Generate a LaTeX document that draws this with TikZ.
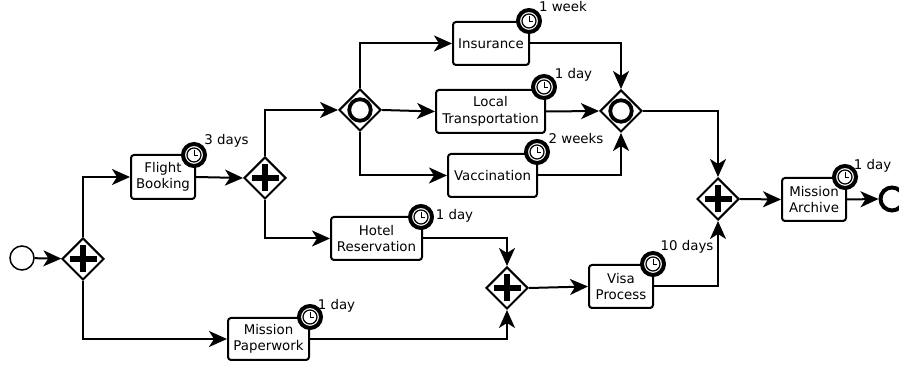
\documentclass[tikz,border=0pt]{standalone}
\usepackage{fontspec}
\setmainfont{DejaVu Sans}
\usetikzlibrary{shapes.geometric,arrows.meta}
\tikzstyle{task}=[rectangle,rounded corners=0.06cm,fill=white,draw=black,
  line width=0.04cm,inner sep=0pt,align=center,font=\fontsize{7.6}{9.4}\selectfont]
\tikzstyle{gate}=[diamond,fill=white,draw=black,line width=0.04cm,
  inner sep=0pt,minimum width=0.84cm,minimum height=0.84cm]
\tikzstyle{par}=[gate,path picture={
    \fill[black] (path picture bounding box.center) +(-0.27,-0.065) rectangle +(0.27,0.065);
    \fill[black] (path picture bounding box.center) +(-0.065,-0.27) rectangle +(0.065,0.27);}]
\tikzstyle{incl}=[gate,path picture={
    \draw[line width=0.075cm] (path picture bounding box.center) circle (0.215);}]
\tikzstyle{timer}=[circle,fill=white,draw=black,line width=0.08cm,inner sep=0pt,
  minimum size=0.44cm,path picture={
    \draw[line width=0.025cm] (path picture bounding box.center) circle (0.14);
    \draw[line width=0.015cm] (path picture bounding box.center) +(0,0.1) -- +(0,0) -- +(0.08,0);}]
\tikzstyle{dur}=[inner sep=0pt,font=\fontsize{7.6}{9.4}\selectfont]
\tikzstyle{flow}=[line width=0.04cm,-{Stealth[length=0.36cm,width=0.32cm,inset=0.1cm]}]
\begin{document}
\begin{tikzpicture}
    \useasboundingbox (0,0) rectangle (17.98,7.34);
    \node [circle,draw=black,line width=0.03cm,inner sep=0pt,minimum size=0.48cm] (start) at (0.44,2.18) {};
    \node [style=par] (split) at (1.66,2.16) {};
    \node [style=task,minimum width=1.28cm,minimum height=0.88cm] (flight) at (3.26,3.80) {Flight\\Booking};
    \node [style=par] (split2) at (5.30,3.78) {};
    \node [style=task,minimum width=1.82cm,minimum height=0.86cm] (hotel) at (7.53,2.57) {Hotel\\Reservation};
    \node [style=task,minimum width=1.62cm,minimum height=0.84cm] (paper) at (5.37,0.56) {Mission\\Paperwork};
    \node [style=incl] (or1) at (7.20,5.14) {};
    \node [style=task,minimum width=1.52cm,minimum height=0.86cm] (insur) at (9.82,6.47) {Insurance};
    \node [style=task,minimum width=2.18cm,minimum height=0.86cm] (local) at (9.81,5.11) {Local\\Transportation};
    \node [style=task,minimum width=1.78cm,minimum height=0.86cm] (vacc) at (9.85,3.83) {Vaccination};
    \node [style=incl] (or2) at (12.42,5.12) {};
    \node [style=par] (join1) at (10.14,1.58) {};
    \node [style=task,minimum width=1.28cm,minimum height=0.86cm] (visa) at (12.42,1.61) {Visa\\Process};
    \node [style=par] (join2) at (14.36,3.36) {};
    \node [style=task,minimum width=1.28cm,minimum height=0.86cm] (archive) at (16.28,3.35) {Mission\\Archive};
    \node [circle,draw=black,line width=0.08cm,inner sep=0pt,minimum size=0.46cm] (end) at (17.84,3.36) {};
    \node [style=timer] (t1) at (3.88,4.24) {};
    \node [style=timer] (t2) at (10.58,6.92) {};
    \node [style=timer] (t3) at (10.88,5.60) {};
    \node [style=timer] (t4) at (10.74,4.30) {};
    \node [style=timer] (t5) at (8.42,3.00) {};
    \node [style=timer] (t6) at (6.20,1.00) {};
    \node [style=timer] (t7) at (13.06,2.06) {};
    \node [style=timer] (t8) at (16.90,3.80) {};
    \node [style=dur] (d1) at (4.53,4.52) {3 days};
    \node [style=dur] (d2) at (11.26,7.20) {1 week};
    \node [style=dur] (d3) at (11.47,5.85) {1 day};
    \node [style=dur] (d4) at (11.52,4.56) {2 weeks};
    \node [style=dur] (d5) at (9.09,3.03) {1 day};
    \node [style=dur] (d6) at (6.73,1.23) {1 day};
    \node [style=dur] (d7) at (13.74,2.40) {10 days};
    \node [style=dur] (d8) at (17.45,4.03) {1 day};
    \draw [style=flow] (start) to (split);
    \draw [style=flow] (split.north) |- (flight.west);
    \draw [style=flow] (split.south) |- (paper.west);
    \draw [style=flow] (flight.east) to (split2.west);
    \draw [style=flow] (split2.north) |- (or1.west);
    \draw [style=flow] (split2.south) |- (hotel.west);
    \draw [style=flow] (or1.north) |- (insur.west);
    \draw [style=flow] (or1.east) to (local.west);
    \draw [style=flow] (or1.south) |- (vacc.west);
    \draw [style=flow] (insur.east) -| (or2.north);
    \draw [style=flow] (local.east) to (or2.west);
    \draw [style=flow] (vacc.east) -| (or2.south);
    \draw [style=flow] (hotel.east) -| (join1.north);
    \draw [style=flow] (paper.east) -| (join1.south);
    \draw [style=flow] (join1.east) to (visa.west);
    \draw [style=flow] (visa.east) -| (join2.south);
    \draw [style=flow] (or2.east) -| (join2.north);
    \draw [style=flow] (join2.east) to (archive.west);
    \draw [style=flow] (archive.east) to (end.west);
  \end{tikzpicture}
\end{document}
